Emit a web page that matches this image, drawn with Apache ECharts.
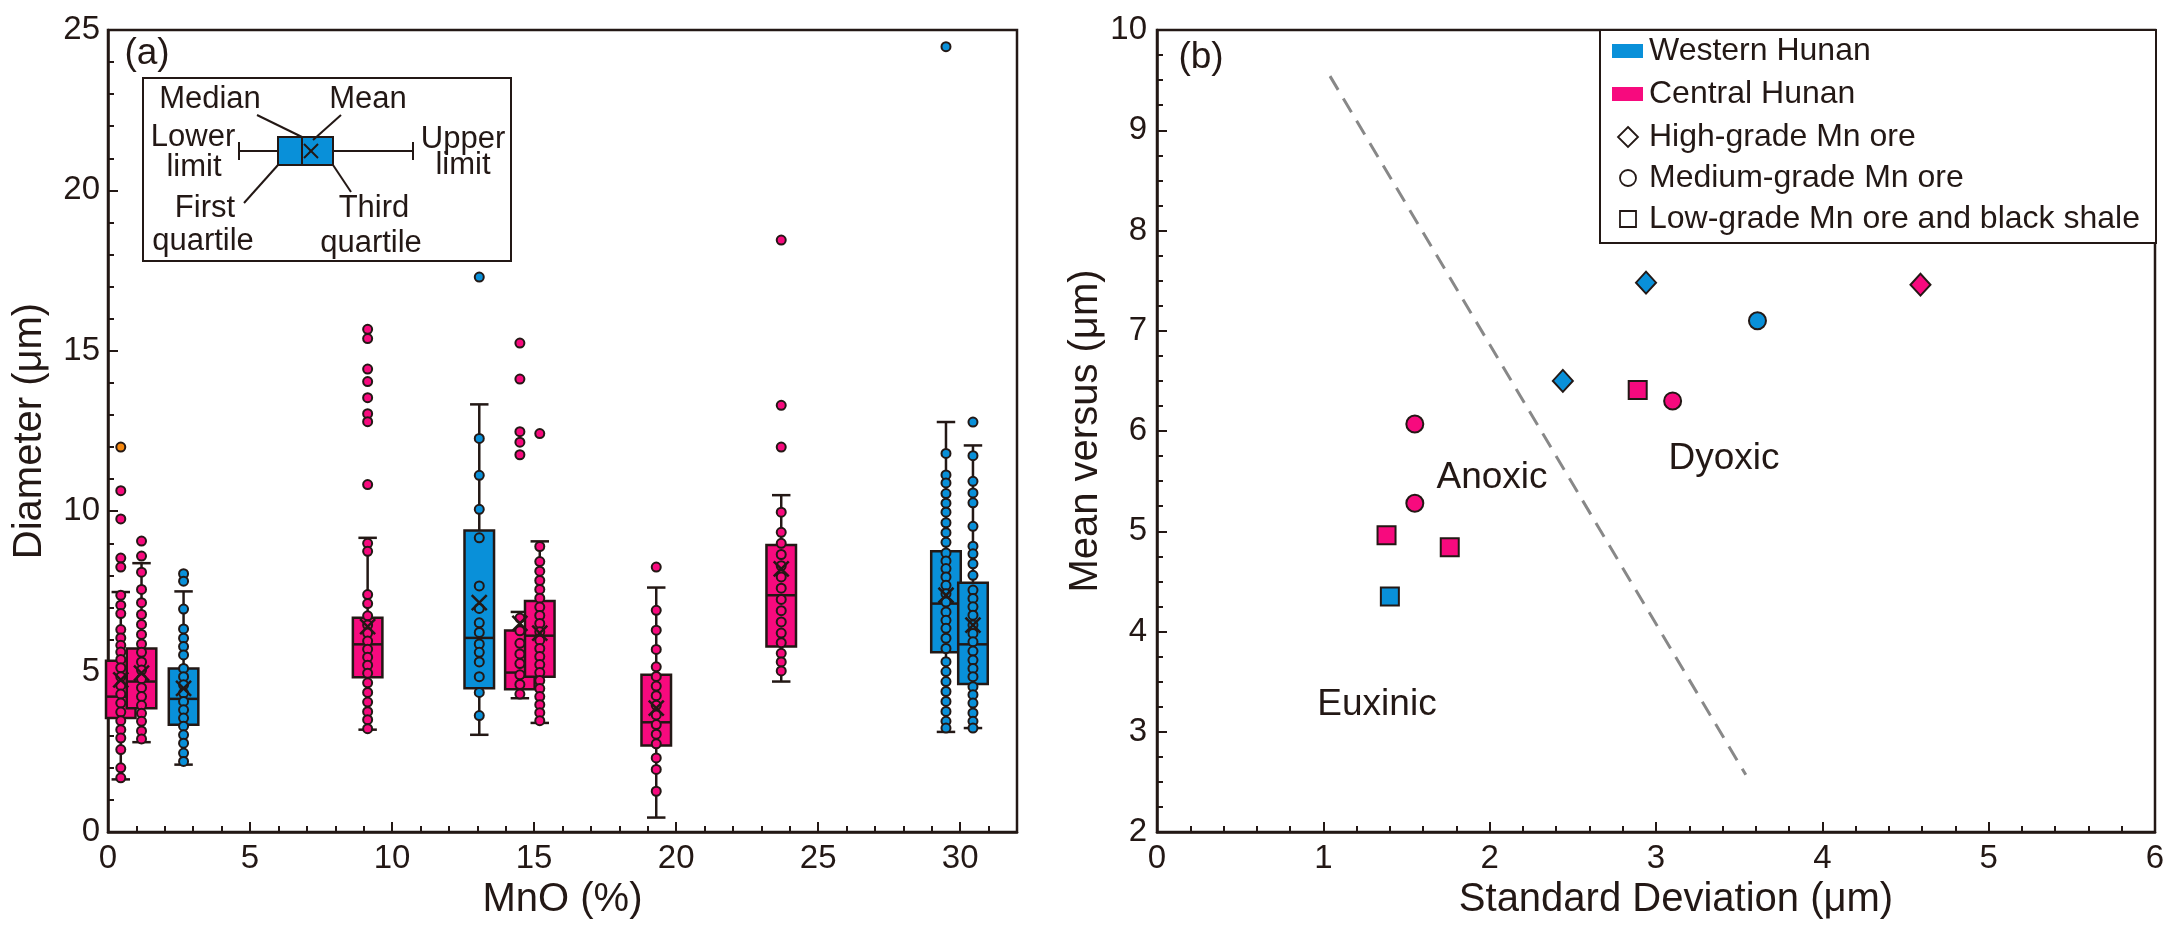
<!DOCTYPE html>
<html>
<head>
<meta charset="utf-8">
<script src="https://cdn.jsdelivr.net/npm/echarts@6.0.0/dist/echarts.min.js"></script>
<style>
html,body{margin:0;padding:0;background:#fff;}
#main{width:2170px;height:935px;}
</style>
</head>
<body>
<div id="main"></div>
<script>
// ---- panel (a): grain diameter vs MnO ----
var groupX      = [0.45, 1.18, 2.66, 9.14, 13.07, 14.5, 15.2, 19.3, 23.7, 29.5, 30.45];
var groupRegion = ['C', 'C', 'W', 'C', 'W', 'C', 'C', 'C', 'C', 'W', 'W'];
var boxLower  = [1.64, 2.8, 2.1, 3.19, 3.03, 4.17, 3.4, 0.45, 4.69, 3.12, 3.24];
var boxQ1     = [3.55, 3.86, 3.34, 4.82, 4.48, 4.45, 4.84, 2.7, 5.78, 5.6, 4.61];
var boxMedian = [4.22, 4.69, 4.15, 5.85, 6.05, 4.97, 6.12, 3.42, 7.38, 7.12, 5.85];
var boxQ3     = [5.34, 5.72, 5.1, 6.68, 9.4, 6.28, 7.2, 4.9, 8.95, 8.75, 7.77];
var boxUpper  = [7.48, 8.38, 7.5, 9.17, 13.33, 6.86, 9.06, 7.62, 10.5, 12.78, 12.05];
var boxMean   = [4.74, 4.95, 4.48, 6.4, 7.15, 6.5, 6.2, 3.86, 8.2, 7.38, 6.45];

var groupPoints = [
  [10.64, 9.76, 8.54, 8.26, 7.38, 7.07, 6.81, 6.31, 6.05, 5.82, 5.61, 5.38, 5.12, 4.84, 4.57, 4.3, 4.02, 3.74, 3.47, 3.19, 2.93, 2.57, 2.0, 1.69],
  [9.07, 8.6, 8.1, 7.56, 7.15, 6.78, 6.47, 6.16, 5.86, 5.6, 5.3, 5.05, 4.78, 4.5, 4.22, 3.95, 3.7, 3.45, 3.15, 2.9],
  [8.05, 7.82, 6.95, 6.33, 6.04, 5.78, 5.52, 5.1, 4.84, 4.59, 4.33, 4.07, 3.81, 3.55, 3.3, 3.03, 2.77, 2.46, 2.2],
  [15.67, 15.38, 14.43, 14.04, 13.54, 13.04, 12.79, 10.83, 9.0, 8.75, 7.4, 7.12, 6.74, 6.45, 6.2, 5.95, 5.7, 5.45, 5.2, 4.95, 4.65, 4.35, 4.05, 3.75, 3.5, 3.22],
  [17.3, 12.27, 11.12, 10.06, 9.17, 7.67, 6.97, 6.52, 6.22, 5.86, 5.6, 5.3, 4.84, 4.35, 3.63],
  [15.24, 14.12, 12.48, 12.15, 11.76, 6.67, 6.27, 5.88, 5.55, 5.25, 4.9, 4.6, 4.3],
  [12.42, 8.9, 8.43, 8.13, 7.84, 7.56, 7.29, 7.01, 6.75, 6.5, 6.24, 5.98, 5.72, 5.47, 5.22, 4.97, 4.72, 4.47, 4.22, 3.97, 3.72, 3.47],
  [8.26, 6.91, 6.29, 5.69, 5.15, 4.85, 4.55, 4.25, 3.95, 3.65, 3.35, 3.05, 2.75, 2.31, 1.95, 1.27],
  [18.45, 13.3, 12.0, 9.97, 9.34, 9.0, 8.65, 8.3, 7.95, 7.6, 7.25, 6.9, 6.55, 6.2, 5.9, 5.57, 5.3, 5.02],
  [24.48, 11.8, 11.13, 10.88, 10.55, 10.25, 9.97, 9.64, 9.33, 9.03, 8.7, 8.45, 8.21, 7.95, 7.69, 7.43, 7.17, 6.86, 6.6, 6.35, 6.04, 5.72, 5.31, 5.0, 4.69, 4.38, 4.07, 3.76, 3.45, 3.24],
  [12.78, 11.73, 10.93, 10.57, 10.26, 9.53, 8.91, 8.67, 8.36, 8.0, 7.54, 7.28, 7.02, 6.76, 6.45, 6.19, 5.93, 5.64, 5.36, 5.1, 4.84, 4.53, 4.28, 4.02, 3.71, 3.45, 3.24]
];
var orangePoint = [[0.45, 12.0]];

// ---- panel (b): mean vs standard deviation ----
var sdValues     = [2.94, 4.59, 3.61, 2.44, 2.89, 3.10, 1.55, 1.55, 1.38, 1.76, 1.40];
var meanValues   = [7.48, 7.46, 7.10, 6.50, 6.41, 6.30, 6.07, 5.28, 4.96, 4.84, 4.35];
var sampleRegion = ['W', 'C', 'W', 'W', 'C', 'C', 'C', 'C', 'C', 'C', 'W'];
var sampleGrade  = ['high', 'high', 'medium', 'high', 'low', 'medium', 'medium', 'medium', 'low', 'low', 'low'];
var boundaryLine = [[1.04, 9.54], [3.54, 2.57]];

var PINK = '#f70a7e', BLUE = '#0990d9', ORANGE = '#f7890f', INK = '#231815';
var FONT = 'Liberation Sans, Arial, sans-serif';
var BOX_W = 1.04, CAP_W = 0.65;

function regionColor(r){ return r === 'W' ? BLUE : PINK; }

var boxData = [];
var meanData = [];
var pinkPts = [], bluePts = [];
for (var i = 0; i < groupX.length; i++) {
  boxData.push([groupX[i], boxLower[i], boxQ1[i], boxMedian[i], boxQ3[i], boxUpper[i], groupRegion[i] === 'W' ? 1 : 0]);
  meanData.push([groupX[i], boxMean[i]]);
  for (var j = 0; j < groupPoints[i].length; j++) {
    (groupRegion[i] === 'W' ? bluePts : pinkPts).push([groupX[i], groupPoints[i][j]]);
  }
}

function renderBox(params, api){
  var x = api.value(0);
  var pL = api.coord([x, api.value(1)]);
  var pQ1 = api.coord([x, api.value(2)]);
  var pM = api.coord([x, api.value(3)]);
  var pQ3 = api.coord([x, api.value(4)]);
  var pU = api.coord([x, api.value(5)]);
  var bw = api.size([BOX_W, 0])[0];
  var cw = api.size([CAP_W, 0])[0];
  var fill = api.value(6) === 1 ? BLUE : PINK;
  var st = {stroke: INK, lineWidth: 2.5};
  return {
    type: 'group',
    children: [
      {type: 'line', shape: {x1: pL[0], y1: pL[1], x2: pU[0], y2: pU[1]}, style: st},
      {type: 'line', shape: {x1: pU[0] - cw / 2, y1: pU[1], x2: pU[0] + cw / 2, y2: pU[1]}, style: st},
      {type: 'line', shape: {x1: pL[0] - cw / 2, y1: pL[1], x2: pL[0] + cw / 2, y2: pL[1]}, style: st},
      {type: 'rect', shape: {x: pQ3[0] - bw / 2, y: pQ3[1], width: bw, height: pQ1[1] - pQ3[1]},
        style: {fill: fill, stroke: INK, lineWidth: 2.5}},
      {type: 'line', shape: {x1: pM[0] - bw / 2, y1: pM[1], x2: pM[0] + bw / 2, y2: pM[1]}, style: st}
    ]
  };
}

function renderMean(params, api){
  var p = api.coord([api.value(0), api.value(1)]);
  var h = 7.5;
  var st = {stroke: INK, lineWidth: 2.5};
  return {
    type: 'group',
    children: [
      {type: 'line', shape: {x1: p[0] - h, y1: p[1] - h, x2: p[0] + h, y2: p[1] + h}, style: st},
      {type: 'line', shape: {x1: p[0] - h, y1: p[1] + h, x2: p[0] + h, y2: p[1] - h}, style: st}
    ]
  };
}

var gradeSymbol = {high: 'diamond', medium: 'circle', low: 'rect'};
var gradeSize = {high: [20, 22], medium: 17, low: 18};
var scatterB = sdValues.map(function(sd, k){
  return {
    value: [sd, meanValues[k]],
    symbol: gradeSymbol[sampleGrade[k]],
    symbolSize: gradeSize[sampleGrade[k]],
    itemStyle: {color: regionColor(sampleRegion[k])}
  };
});

// ---- helpers for the drawn keys ----
function txt(x, y, s, size, align){
  return {type: 'text', x: x, y: y, z: 100,
    style: {text: s, fill: INK, font: (size || 31) + 'px ' + FONT, textAlign: align || 'center', textVerticalAlign: 'middle'}};
}
function seg(x1, y1, x2, y2, w){
  return {type: 'line', z: 100, shape: {x1: x1, y1: y1, x2: x2, y2: y2}, style: {stroke: INK, lineWidth: w || 2}};
}

var graphics = [
  // key for panel (a)
  {type: 'rect', z: 99, shape: {x: 143, y: 78, width: 368, height: 183}, style: {fill: '#fff', stroke: INK, lineWidth: 2}},
  txt(210, 99, 'Median'), txt(368, 99, 'Mean'),
  txt(193, 137, 'Lower'), txt(194, 167, 'limit'),
  txt(463, 139, 'Upper'), txt(463, 165, 'limit'),
  txt(205, 208, 'First'), txt(203, 241, 'quartile'),
  txt(374, 208, 'Third'), txt(371, 243, 'quartile'),
  seg(239, 151, 278, 151, 2), seg(333, 151, 413, 151, 2),
  seg(239, 142, 239, 160, 2), seg(413, 142, 413, 160, 2),
  {type: 'rect', z: 100, shape: {x: 278, y: 137, width: 55, height: 28}, style: {fill: BLUE, stroke: INK, lineWidth: 2}},
  seg(302, 137, 302, 165, 2),
  seg(304, 144, 318, 158, 2), seg(304, 158, 318, 144, 2),
  seg(257, 115, 302, 137, 2), seg(341, 115, 313, 140, 2),
  seg(278, 165, 244, 203, 2), seg(333, 165, 351, 192, 2),
  txt(147, 54, '(a)', 37),
  // key for panel (b)
  {type: 'rect', z: 99, shape: {x: 1600, y: 30, width: 556, height: 213}, style: {fill: '#fff', stroke: INK, lineWidth: 2}},
  {type: 'rect', z: 100, shape: {x: 1612, y: 44, width: 31, height: 14}, style: {fill: BLUE}},
  {type: 'rect', z: 100, shape: {x: 1612, y: 87, width: 31, height: 14}, style: {fill: PINK}},
  {type: 'polygon', z: 100, shape: {points: [[1628, 127], [1638, 137], [1628, 147], [1618, 137]]}, style: {fill: '#fff', stroke: INK, lineWidth: 1.8}},
  {type: 'circle', z: 100, shape: {cx: 1628, cy: 178, r: 8}, style: {fill: '#fff', stroke: INK, lineWidth: 1.8}},
  {type: 'rect', z: 100, shape: {x: 1620, y: 211, width: 16, height: 16}, style: {fill: '#fff', stroke: INK, lineWidth: 1.8}},
  txt(1649, 51, 'Western Hunan', 32, 'left'),
  txt(1649, 94, 'Central Hunan', 32, 'left'),
  txt(1649, 137, 'High-grade Mn ore', 32, 'left'),
  txt(1649, 178, 'Medium-grade Mn ore', 32, 'left'),
  txt(1649, 219, 'Low-grade Mn ore and black shale', 32, 'left'),
  txt(1201, 58, '(b)', 37),
  txt(1492, 478, 'Anoxic', 37),
  txt(1724, 459, 'Dyoxic', 37),
  txt(1377, 705, 'Euxinic', 37)
];

var axisLineStyle = {show: true, lineStyle: {color: INK, width: 2.5}};
var labelStyle = {color: INK, fontSize: 33, fontFamily: FONT};
var nameStyle = {color: INK, fontSize: 40, fontFamily: FONT};

var chart = echarts.init(document.getElementById('main'));
chart.setOption({
  animation: false,
  backgroundColor: '#fff',
  grid: [
    {left: 108, top: 30, width: 909, height: 802, show: true, borderColor: INK, borderWidth: 2.5, containLabel: false},
    {left: 1157, top: 30, width: 998, height: 802, show: true, borderColor: INK, borderWidth: 2.5, containLabel: false}
  ],
  xAxis: [
    {gridIndex: 0, type: 'value', min: 0, max: 32, interval: 5, position: 'bottom',
      name: 'MnO (%)', nameLocation: 'middle', nameGap: 38, nameTextStyle: nameStyle,
      axisLine: axisLineStyle, axisTick: {inside: true, length: 10, lineStyle: {color: INK, width: 2}},
      axisLabel: Object.assign({margin: 10, showMaxLabel: false}, labelStyle), splitLine: {show: false}},
    {gridIndex: 0, type: 'value', min: 0, max: 32, interval: 1, position: 'bottom',
      axisLine: {show: false}, axisTick: {inside: true, length: 6, lineStyle: {color: INK, width: 2}},
      axisLabel: {show: false}, splitLine: {show: false}},
    {gridIndex: 1, type: 'value', min: 0, max: 6, interval: 1,
      name: 'Standard Deviation (μm)', nameLocation: 'middle', nameGap: 43,
      nameTextStyle: Object.assign({padding: [0, 0, 0, 40]}, nameStyle),
      axisLine: axisLineStyle, axisTick: {inside: true, length: 10, lineStyle: {color: INK, width: 2}},
      minorTick: {show: true, splitNumber: 5, length: 6, lineStyle: {color: INK, width: 2}},
      axisLabel: Object.assign({margin: 10}, labelStyle), splitLine: {show: false}, minorSplitLine: {show: false}}
  ],
  yAxis: [
    {gridIndex: 0, type: 'value', min: 0, max: 25, interval: 5,
      name: 'Diameter (μm)', nameLocation: 'middle', nameGap: 58, nameTextStyle: nameStyle,
      axisLine: axisLineStyle, axisTick: {inside: true, length: 10, lineStyle: {color: INK, width: 2}},
      minorTick: {show: true, splitNumber: 5, length: 6, lineStyle: {color: INK, width: 2}},
      axisLabel: Object.assign({margin: 8}, labelStyle), splitLine: {show: false}, minorSplitLine: {show: false}},
    {gridIndex: 1, type: 'value', min: 2, max: 10, interval: 1,
      name: 'Mean versus (μm)', nameLocation: 'middle', nameGap: 42, nameTextStyle: nameStyle,
      axisLine: axisLineStyle, axisTick: {inside: true, length: 10, lineStyle: {color: INK, width: 2}},
      minorTick: {show: true, splitNumber: 4, length: 6, lineStyle: {color: INK, width: 2}},
      axisLabel: Object.assign({margin: 10}, labelStyle), splitLine: {show: false}, minorSplitLine: {show: false}}
  ],
  series: [
    {type: 'custom', name: 'boxes', xAxisIndex: 0, yAxisIndex: 0, z: 2,
      renderItem: renderBox, encode: {x: 0, y: [1, 2, 3, 4, 5]}, data: boxData},
    {type: 'scatter', name: 'Central Hunan', xAxisIndex: 0, yAxisIndex: 0, z: 3, symbol: 'circle', symbolSize: 9,
      itemStyle: {color: PINK, borderColor: INK, borderWidth: 2, opacity: 1}, data: pinkPts},
    {type: 'scatter', name: 'Western Hunan', xAxisIndex: 0, yAxisIndex: 0, z: 3, symbol: 'circle', symbolSize: 9,
      itemStyle: {color: BLUE, borderColor: INK, borderWidth: 2, opacity: 1}, data: bluePts},
    {type: 'scatter', name: 'special', xAxisIndex: 0, yAxisIndex: 0, z: 3, symbol: 'circle', symbolSize: 9,
      itemStyle: {color: ORANGE, borderColor: INK, borderWidth: 2, opacity: 1}, data: orangePoint},
    {type: 'custom', name: 'mean', xAxisIndex: 0, yAxisIndex: 0, z: 4,
      renderItem: renderMean, encode: {x: 0, y: 1}, data: meanData},
    {type: 'line', name: 'boundary', xAxisIndex: 2, yAxisIndex: 1, z: 2, symbol: 'none',
      lineStyle: {color: '#888', width: 3, type: [16, 10]}, data: boundaryLine},
    {type: 'scatter', name: 'samples', xAxisIndex: 2, yAxisIndex: 1, z: 3,
      itemStyle: {borderColor: INK, borderWidth: 2, opacity: 1}, data: scatterB}
  ],
  graphic: graphics
});
</script>
</body>
</html>
